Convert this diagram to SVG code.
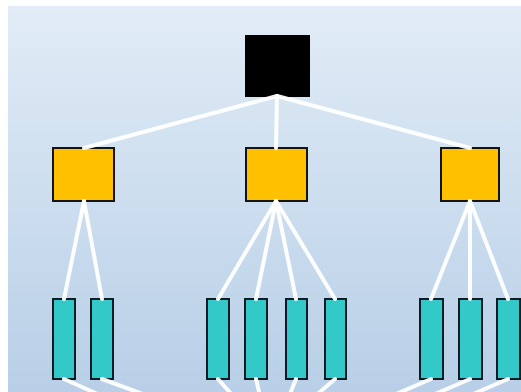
<svg xmlns="http://www.w3.org/2000/svg" width="521" height="392" viewBox="0 0 521 392">
  <defs>
    <linearGradient id="bg" x1="0" y1="0" x2="0" y2="1">
      <stop offset="0" stop-color="#e1ecf6"/>
      <stop offset="1" stop-color="#b8cfe7"/>
    </linearGradient>
    <style>
      .root { fill: #000; }
      .mid { fill: #ffc000; stroke: #141414; stroke-width: 2; }
      .leaf { fill: #33c9c9; stroke: #0e1a26; stroke-width: 2; }
      .edge { stroke: #ffffff; stroke-width: 4; stroke-linecap: round; fill: none; opacity: 0.95; }
    </style>
  </defs>

  <!-- page -->
  <rect width="521" height="392" fill="#ffffff"/>
  <rect x="8" y="6" width="513" height="386" fill="url(#bg)"/>

  <!-- nodes -->
  <g id="root"><rect class="root" x="245" y="35" width="65" height="62"/></g>

  <g id="branch-left"><rect class="mid" x="53" y="148" width="61" height="53"/></g>
  <g id="branch-center"><rect class="mid" x="246" y="148" width="61" height="53"/></g>
  <g id="branch-right"><rect class="mid" x="441" y="148" width="58" height="53"/></g>

  <g id="leaf-1"><rect class="leaf" x="53" y="299" width="22" height="80"/></g>
  <g id="leaf-2"><rect class="leaf" x="91" y="299" width="22" height="80"/></g>
  <g id="leaf-3"><rect class="leaf" x="207" y="299" width="22" height="80"/></g>
  <g id="leaf-4"><rect class="leaf" x="245" y="299" width="22" height="80"/></g>
  <g id="leaf-5"><rect class="leaf" x="286" y="299" width="21" height="80"/></g>
  <g id="leaf-6"><rect class="leaf" x="325" y="299" width="21" height="80"/></g>
  <g id="leaf-7"><rect class="leaf" x="420" y="299" width="23" height="80"/></g>
  <g id="leaf-8"><rect class="leaf" x="459" y="299" width="23" height="80"/></g>
  <g id="leaf-9"><rect class="leaf" x="497" y="299" width="23" height="80"/></g>

  <!-- connectors -->
  <g id="connectors">
    <line class="edge" x1="277" y1="96" x2="84" y2="148"/>
    <line class="edge" x1="277" y1="96" x2="276" y2="148"/>
    <line class="edge" x1="277" y1="96" x2="470" y2="148"/>

    <line class="edge" x1="84" y1="201" x2="64" y2="299"/>
    <line class="edge" x1="84" y1="201" x2="102" y2="299"/>

    <line class="edge" x1="276" y1="201" x2="218" y2="299"/>
    <line class="edge" x1="276" y1="201" x2="256" y2="299"/>
    <line class="edge" x1="276" y1="201" x2="296" y2="299"/>
    <line class="edge" x1="276" y1="201" x2="335" y2="299"/>

    <line class="edge" x1="470" y1="201" x2="431" y2="299"/>
    <line class="edge" x1="470" y1="201" x2="470" y2="299"/>
    <line class="edge" x1="470" y1="201" x2="508" y2="299"/>

    <!-- links continuing to the next level below -->
    <line class="edge" x1="64" y1="379" x2="120" y2="404"/>
    <line class="edge" x1="102" y1="379" x2="170" y2="404"/>
    <line class="edge" x1="218" y1="379" x2="240" y2="404"/>
    <line class="edge" x1="256" y1="379" x2="262" y2="404"/>
    <line class="edge" x1="296" y1="379" x2="286" y2="404"/>
    <line class="edge" x1="335" y1="379" x2="306" y2="404"/>
    <line class="edge" x1="431" y1="379" x2="373" y2="404"/>
    <line class="edge" x1="470" y1="379" x2="412" y2="404"/>
    <line class="edge" x1="508" y1="379" x2="450" y2="404"/>
  </g>
</svg>
